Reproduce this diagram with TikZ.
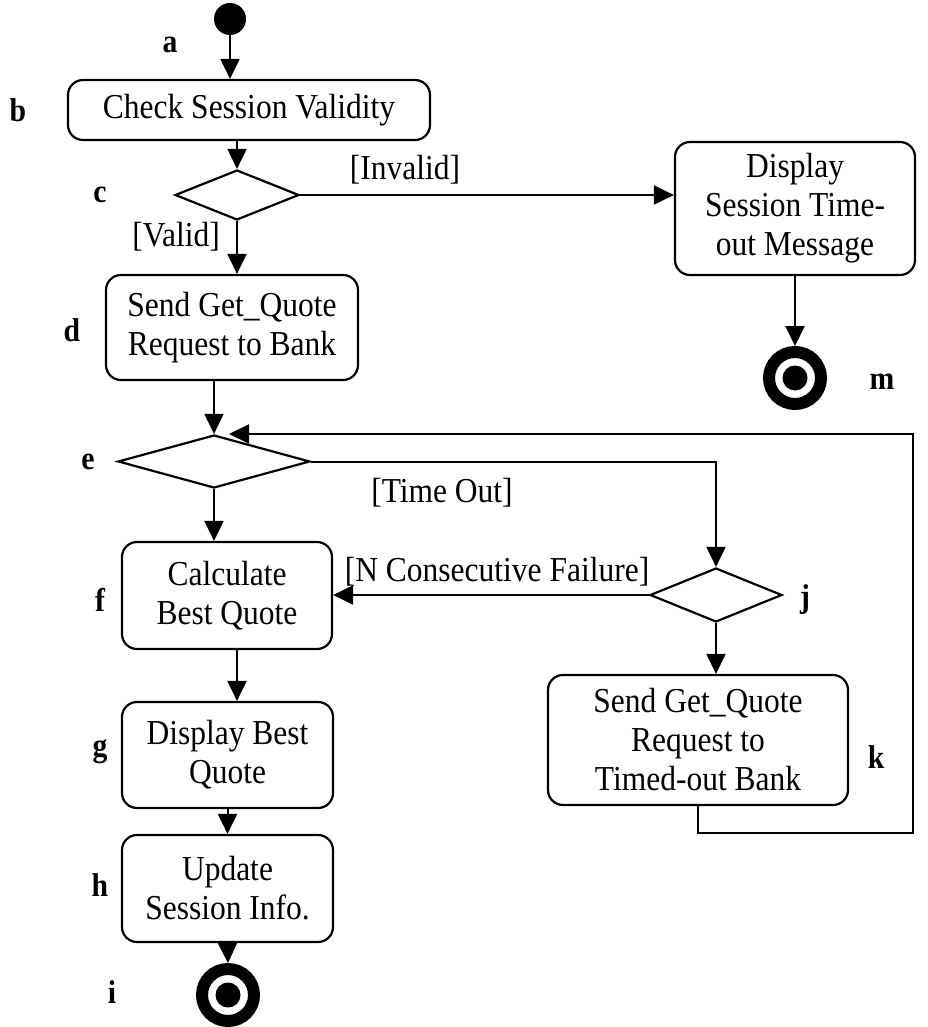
\documentclass[tikz,border=0pt]{standalone}
\usepackage{fontspec}
\setmainfont[FakeStretch=0.9]{Liberation Serif}
\usetikzlibrary{arrows.meta,shapes.geometric}
\begin{document}
\begin{tikzpicture}[x=1pt,y=-1pt,
  act/.style={draw, line width=2.2pt, rounded corners=15pt, align=center, inner sep=0pt,
    font=\fontsize{35}{39}\selectfont},
  dec/.style={draw, diamond, line width=2.2pt, inner sep=0pt},
  lab/.style={font=\fontsize{33}{33}\selectfont\bfseries},
  guard/.style={font=\fontsize{35}{39}\selectfont},
  flow/.style={line width=2pt, -{Triangle[length=20pt,width=19pt]}},
  endst/.style={circle, draw, line width=12pt, minimum size=52pt, inner sep=0pt}]
\useasboundingbox (0,0) rectangle (928,1027);

% start
\node (s) [circle, fill, minimum size=32pt, inner sep=0pt] at (230,19) {};

% activities
\node (b) [act, minimum width=362pt, minimum height=60pt] at (249,110) {Check Session Validity};
\node (disp) [act, minimum width=240pt, minimum height=133pt] at (795,208.5) {Display\\Session Time-\\out Message};
\node (d) [act, minimum width=252pt, minimum height=105pt] at (232,327.5) {Send Get\_Quote\\Request to Bank};
\node (f) [act, minimum width=210pt, minimum height=107pt] at (227,595.5) {Calculate\\Best Quote};
\node (g) [act, minimum width=211pt, minimum height=106pt] at (227.5,755) {Display Best\\Quote};
\node (h) [act, minimum width=211pt, minimum height=107pt] at (227.5,888.5) {Update\\Session Info.};
\node (k) [act, minimum width=300pt, minimum height=130pt] at (698,740) {Send Get\_Quote\\Request to\\Timed-out Bank};

% decisions
\node (c) [dec, minimum width=124pt, minimum height=50pt] at (237,195) {};
\node (e) [dec, minimum width=192pt, minimum height=53pt] at (214,461.5) {};
\node (j) [dec, minimum width=132pt, minimum height=54pt] at (716,595) {};

% final states
\node (m) [endst] at (795,378) {};
\fill (m.center) circle[radius=12.5pt];
\node (i) [endst] at (228,995) {};
\fill (i.center) circle[radius=12.5pt];

% letters
\node[lab] (la) at (170,45) {a};
\node[lab] (lb) at (18,110) {b};
\node[lab] (lc) at (100,195) {c};
\node[lab] (ld) at (72,330) {d};
\node[lab] (le) at (88,462) {e};
\node[lab] (lf) at (100,600) {f};
\node[lab] (lg) at (100,752) {g};
\node[lab] (lh) at (100,885) {h};
\node[lab] (li) at (112,992) {i};
\node[lab] (lj) at (805,600) {j};
\node[lab] (lk) at (876,757) {k};
\node[lab] (lm) at (882,382) {m};

% guards
\node[guard] (gInv) at (405,170) {[Invalid]};
\node[guard] (gVal) at (176,237) {[Valid]};
\node[guard] (gTO) at (442,493) {[Time Out]};
\node[guard] (gN) at (497,572) {[N Consecutive Failure]};

% loop coordinates
\coordinate (lp1) at (698,833);
\coordinate (lp2) at (913,833);
\coordinate (lp3) at (913,434);
\coordinate (eIn) at (229,434);

% connectors
\draw[flow] (s.south) -- (s.south |- b.north);
\draw[flow] (c.north |- b.south) -- (c.north);
\draw[flow] (c.east) -- (c.east -| disp.west);
\draw[flow] (c.south) -- (c.south |- d.north);
\draw[flow] (disp.south) -- (m.north);
\draw[flow] (e.north |- d.south) -- (e.north);
\draw[flow] (e.south) -- (e.south |- f.north);
\draw[flow] (e.east) -| (j.north);
\draw[flow] (j.west) -- (j.west -| f.east);
\draw[flow] (j.south) -- (j.south |- k.north);
\draw[flow] (k.south) -- (lp1) -- (lp2) -- (lp3) -- (eIn);
\draw[flow] ([xshift=10pt]f.south) -- ([xshift=10pt]f.south |- g.north);
\draw[flow] (g.south) -- (h.north);
\draw[flow] (h.south) -- (i.north);
\end{tikzpicture}
\end{document}
